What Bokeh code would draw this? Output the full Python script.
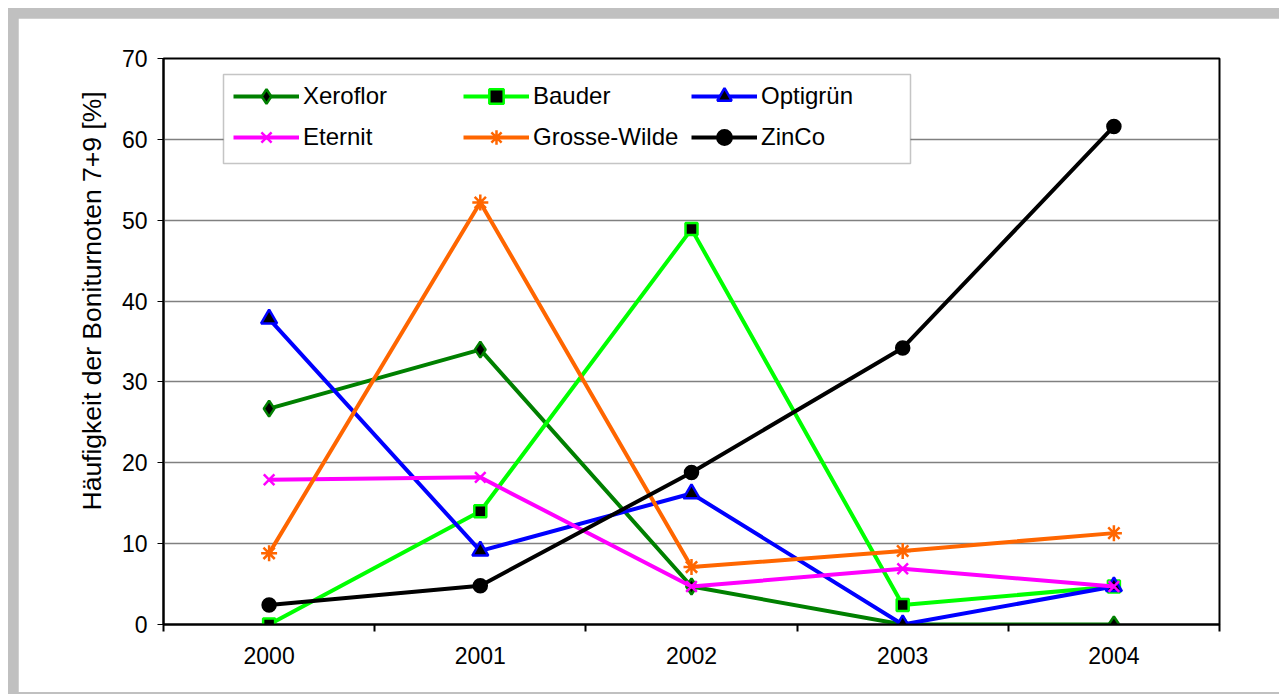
from bokeh.plotting import figure
from bokeh.models import Range1d, FixedTicker, Legend, LegendItem, BoxAnnotation, Title
from bokeh.layouts import column
from bokeh.embed import file_html
from bokeh.resources import INLINE

years = ["2000", "2001", "2002", "2003", "2004"]
xeroflor = [26.7, 34.0, 4.7, 0.0, 0.0]
bauder = [0.0, 14.0, 48.9, 2.4, 4.7]
optigruen = [37.8, 9.1, 16.2, 0.0, 4.7]
eternit = [17.9, 18.2, 4.7, 6.9, 4.7]
grosse_wilde = [8.8, 52.2, 7.1, 9.1, 11.3]
zinco = [2.4, 4.8, 18.8, 34.2, 61.6]
y_ticks = [0, 10, 20, 30, 40, 50, 60, 70]
y_label = "Häufigkeit der Boniturnoten 7+9 [%]"

FONT = "Liberation Sans"
x_pos = [i + 0.5 for i in range(len(years))]
boundaries = list(range(len(years) + 1))

p = figure(width=1261, height=674, output_backend="svg", toolbar_location=None,
           x_range=Range1d(0, len(years)), y_range=Range1d(0, 70),
           min_border_left=145, min_border_top=40, min_border_right=60, min_border_bottom=68)
p.background_fill_color = "white"
p.border_fill_color = "white"
p.outline_line_color = "black"
p.outline_line_width = 2

# axes
p.xaxis.ticker = FixedTicker(ticks=x_pos, minor_ticks=boundaries)
p.xaxis.major_label_overrides = {x: y for x, y in zip(x_pos, years)}
p.xaxis.major_tick_line_color = None
p.xaxis.major_tick_out = 0
p.xaxis.major_tick_in = 0
p.xaxis.minor_tick_line_color = "black"
p.xaxis.minor_tick_line_width = 2
p.xaxis.minor_tick_out = 7
p.xaxis.minor_tick_in = 0
p.xaxis.major_label_standoff = 15

p.yaxis.ticker = FixedTicker(ticks=y_ticks)
p.yaxis.major_tick_out = 6
p.yaxis.major_tick_in = 0
p.yaxis.major_tick_line_width = 1
p.yaxis.minor_tick_line_color = None
p.yaxis.major_label_standoff = 10

for ax in (p.xaxis, p.yaxis):
    ax.axis_line_color = "black"
    ax.axis_line_width = 2
    ax.major_label_text_font = FONT
    ax.major_label_text_font_size = "23px"
    ax.major_label_text_color = "black"

# y-axis title (placed like the original, slightly above centre)
p.add_layout(Title(text=y_label, align="left", offset=114, standoff=23,
                   text_font=FONT, text_font_size="26.5px", text_font_style="normal",
                   text_color="black"), "left")

p.xgrid.visible = False
p.ygrid.ticker = FixedTicker(ticks=y_ticks[1:-1])
p.ygrid.grid_line_color = "#808080"
p.ygrid.grid_line_width = 1.5

# name, values, line colour, marker, marker fill, marker outline, size
series = [
    ("Xeroflor", xeroflor, "#008000", "diamond", "black", "#008000", 16),
    ("Bauder", bauder, "#00ff00", "square", "black", "#00ff00", 12),
    ("Optigrün", optigruen, "#0000ff", "triangle", "black", "#0000ff", 16),
    ("Eternit", eternit, "#ff00ff", "x", "#ff00ff", "#ff00ff", 15),
    ("Grosse-Wilde", grosse_wilde, "#ff6600", "asterisk", "#ff6600", "#ff6600", 16),
    ("ZinCo", zinco, "black", "circle", "black", "black", 13),
]

items = []
for name, vals, color, marker, fill, mline, size in series:
    r1 = p.line(x_pos, vals, line_color=color, line_width=4)
    r2 = p.scatter(x_pos, vals, marker=marker, size=size, fill_color=fill,
                   line_color=mline, line_width=2.5)
    items.append(LegendItem(label=name, renderers=[r1, r2]))

# legend frame (frame-relative screen units, y measured upward)
p.add_layout(BoxAnnotation(left=60, right=747, top=550, bottom=461,
                           left_units="screen", right_units="screen",
                           top_units="screen", bottom_units="screen",
                           fill_color="white", fill_alpha=1,
                           line_color="#404040", line_width=1.5))

# legend: three columns, row-major order of the items
col_x = [70, 300, 528]
for c in range(3):
    leg = Legend(items=[items[c], items[c + 3]], orientation="vertical",
                 location=(col_x[c], 469), margin=0, padding=0, spacing=5,
                 glyph_width=66, glyph_height=36, label_height=36,
                 label_standoff=4,
                 label_text_font=FONT, label_text_font_size="24px",
                 label_text_color="black",
                 border_line_color=None, background_fill_alpha=0)
    p.add_layout(leg, "center")

inner = column(p, styles={"background-color": "#c0c0c0",
                          "padding": "10px 0px 2px 10px"})
outer = column(inner, styles={"background-color": "white",
                              "padding": "8px 0px 0px 8px"})

open("out.html", "w").write(file_html(outer, INLINE))
